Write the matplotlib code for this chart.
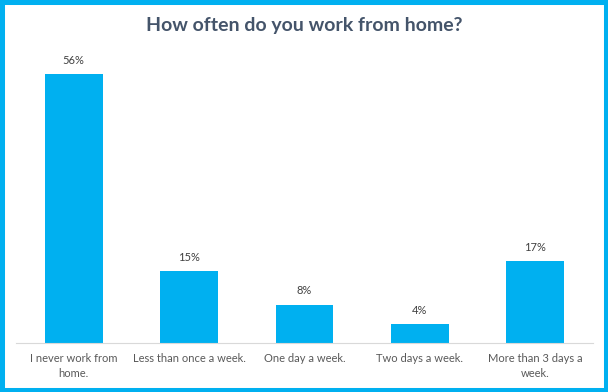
import matplotlib.pyplot as plt
from matplotlib.patches import Rectangle

categories = ["I never work from\nhome.", "Less than once a week.", "One day a week.",
              "Two days a week.", "More than 3 days a\nweek."]
values = [56, 15, 8, 4, 17]

plt.rcParams["font.family"] = ["Lato", "DejaVu Sans"]

fig = plt.figure(figsize=(6.08, 3.92), dpi=100)
ax = fig.add_axes([0.0263, 0.125, 0.9487, 0.735])

x = range(len(values))
ax.bar(x, values, width=0.5, color="#00B0F0")
for xi, v in zip(x, values):
    ax.text(xi, v + 1.7, f"{v}%", ha="center", va="bottom", fontsize=8, color="#404040")

ax.set_xlim(-0.5, len(values) - 0.5)
ax.set_ylim(0, 60)
ax.set_xticks(list(x))
ax.set_xticklabels(categories, fontsize=8, color="#595959", linespacing=1.5)
ax.tick_params(axis="x", length=0, pad=7)
ax.set_yticks([])
for s in ["top", "right", "left"]:
    ax.spines[s].set_visible(False)
ax.spines["bottom"].set_color("#D9D9D9")

fig.text(0.5, 0.935, "How often do you work from home?", ha="center", va="center",
         fontsize=14, fontweight="bold", color="#44546A")

# cyan frame round the whole picture
fig.patches.append(Rectangle((0, 0), 1, 1, transform=fig.transFigure, fill=False,
                             edgecolor="#00B0F0", linewidth=6.5, figure=fig))

fig.savefig("out.png", dpi=100)
